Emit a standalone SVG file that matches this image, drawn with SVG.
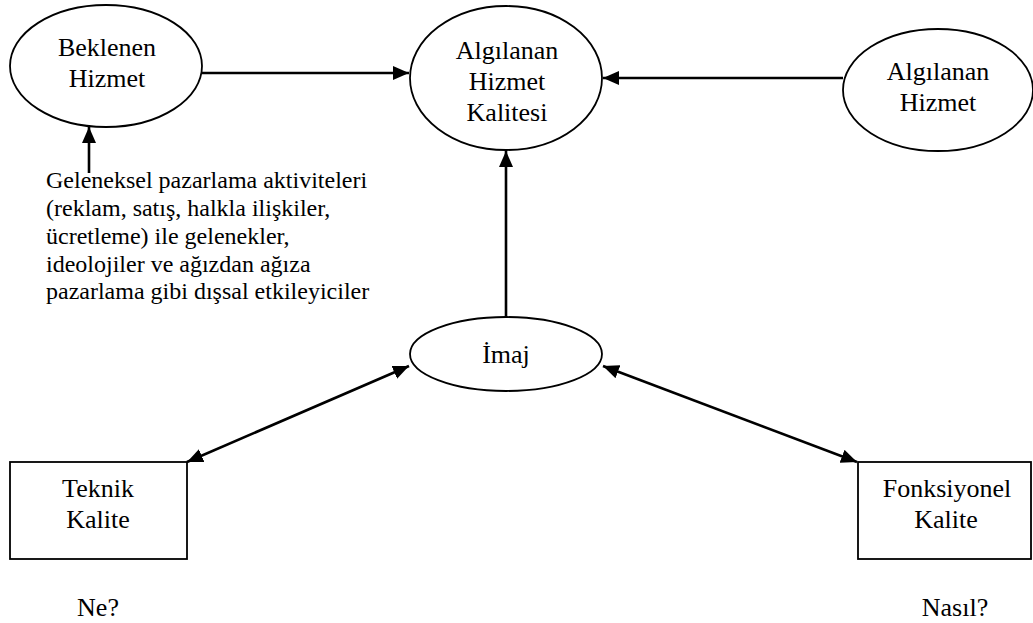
<svg xmlns="http://www.w3.org/2000/svg" width="1033" height="623" viewBox="0 0 1033 623">
  <style>
    .shape { fill: #ffffff; stroke: #000000; stroke-width: 1.8; }
    text { font-family: "Liberation Serif", "Times New Roman", "DejaVu Serif", serif; }
    .label { font-size: 26px; fill: #000000; text-anchor: middle; }
    .note { font-size: 24px; fill: #000000; }
    .conn { stroke: #000000; stroke-width: 2.6; fill: none; }
  </style>
  <defs>
    <marker id="arrow" viewBox="0 0 16 14" refX="16" refY="7" markerWidth="16" markerHeight="14" markerUnits="userSpaceOnUse" orient="auto-start-reverse">
      <path d="M0,0 L16,7 L0,14 z" fill="#000000"/>
    </marker>
  </defs>
  <rect width="1033" height="623" fill="#ffffff"/>

  <!-- connectors -->
  <g id="connectors">
    <line class="conn" x1="202" y1="73" x2="409" y2="73" marker-end="url(#arrow)"/>
    <line class="conn" x1="843" y1="78" x2="603" y2="78" marker-end="url(#arrow)"/>
    <line class="conn" x1="506" y1="317" x2="506" y2="151" marker-end="url(#arrow)"/>
    <line class="conn" x1="89" y1="173" x2="89" y2="127" marker-end="url(#arrow)"/>
    <line class="conn" x1="187" y1="462" x2="409" y2="366" marker-start="url(#arrow)" marker-end="url(#arrow)"/>
    <line class="conn" x1="857" y1="462" x2="603" y2="366" marker-start="url(#arrow)" marker-end="url(#arrow)"/>
  </g>

  <!-- expected service -->
  <g id="beklenen-hizmet">
    <ellipse class="shape" cx="106" cy="66" rx="96" ry="61"/>
    <text class="label" x="107" y="56">Beklenen</text>
    <text class="label" x="107" y="87">Hizmet</text>
  </g>

  <!-- perceived service quality -->
  <g id="algilanan-hizmet-kalitesi">
    <ellipse class="shape" cx="506" cy="78" rx="96" ry="72"/>
    <text class="label" x="507" y="59">Algılanan</text>
    <text class="label" x="507" y="90">Hizmet</text>
    <text class="label" x="507" y="121">Kalitesi</text>
  </g>

  <!-- perceived service -->
  <g id="algilanan-hizmet">
    <ellipse class="shape" cx="938" cy="90" rx="95" ry="61"/>
    <text class="label" x="938" y="80">Algılanan</text>
    <text class="label" x="938" y="111">Hizmet</text>
  </g>

  <!-- image -->
  <g id="imaj">
    <ellipse class="shape" cx="506" cy="354" rx="96" ry="37"/>
    <text class="label" x="506" y="363">İmaj</text>
  </g>

  <!-- technical quality -->
  <g id="teknik-kalite">
    <rect class="shape" x="10" y="462" width="177" height="97"/>
    <text class="label" x="98" y="497">Teknik</text>
    <text class="label" x="98" y="528">Kalite</text>
    <text class="label" x="98" y="616">Ne?</text>
  </g>

  <!-- functional quality -->
  <g id="fonksiyonel-kalite">
    <rect class="shape" x="858" y="462" width="173" height="97"/>
    <text class="label" x="947" y="497">Fonksiyonel</text>
    <text class="label" x="946" y="528">Kalite</text>
    <text class="label" x="955" y="616">Nasıl?</text>
  </g>

  <!-- external influences -->
  <g id="dissal-etkileyiciler">
    <text class="note" x="46" y="188">Geleneksel pazarlama aktiviteleri</text>
    <text class="note" x="46" y="216">(reklam, satış, halkla ilişkiler,</text>
    <text class="note" x="46" y="244">ücretleme) ile gelenekler,</text>
    <text class="note" x="46" y="272">ideolojiler ve ağızdan ağıza</text>
    <text class="note" x="46" y="299">pazarlama gibi dışsal etkileyiciler</text>
  </g>
</svg>
